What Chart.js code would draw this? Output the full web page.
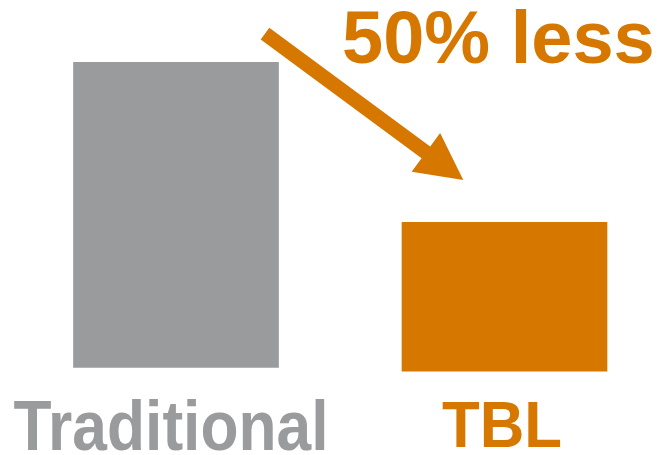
<!DOCTYPE html>
<html>
<head>
<meta charset="utf-8">
<script src="https://cdn.jsdelivr.net/npm/chart.js@4.4.1/dist/chart.umd.min.js"></script>
<style>
  html, body { margin: 0; padding: 0; background: #fff; }
  #wrap { width: 665px; height: 455px; }
</style>
</head>
<body>
<div id="wrap"><canvas id="c" width="665" height="455"></canvas></div>
<script>
const categories = ['Traditional', 'TBL'];
const barBase = [0, -1.3];
const barTop = [100, 47.5];
const callout = '50% less';

const GRAY = '#9a9b9d';
const ORANGE = '#d67800';
const barColors = [GRAY, ORANGE];

// category labels under the bars, drawn a bit condensed like the original
const labelPlugin = {
  id: 'labels',
  afterDatasetsDraw(chart, args, opts) {
    const ctx = chart.ctx;
    const x = chart.scales.x;
    ctx.save();
    chart.data.labels.forEach((lab, i) => {
      const st = opts.styles[i];
      ctx.save();
      ctx.translate(x.getPixelForValue(i) + st.dx, st.baseline);
      ctx.scale(st.sx, 1);
      ctx.font = 'bold ' + st.size + 'px "Liberation Sans", Arial, sans-serif';
      ctx.fillStyle = barColors[i];
      ctx.textAlign = 'center';
      ctx.textBaseline = 'alphabetic';
      ctx.fillText(lab, 0, 0);
      ctx.restore();
    });
    ctx.restore();
  }
};

// the "50% less" callout and arrow
const arrowPlugin = {
  id: 'arrow',
  afterDatasetsDraw(chart) {
    const ctx = chart.ctx;
    ctx.save();
    ctx.fillStyle = ORANGE;
    ctx.font = 'bold 74px "Liberation Sans", Arial, sans-serif';
    ctx.textBaseline = 'alphabetic';
    ctx.fillText(callout, 342, 63);

    const x0 = 265, y0 = 33.7, x1 = 463.3, y1 = 180;
    const ang = Math.atan2(y1 - y0, x1 - x0);
    const len = Math.hypot(x1 - x0, y1 - y0);
    const shaft = 14.5, headW = 48, headL = 46.5;
    ctx.translate(x0, y0);
    ctx.rotate(ang);
    ctx.beginPath();
    ctx.moveTo(0, -shaft / 2);
    ctx.lineTo(len - headL, -shaft / 2);
    ctx.lineTo(len - headL, -headW / 2);
    ctx.lineTo(len, 0);
    ctx.lineTo(len - headL, headW / 2);
    ctx.lineTo(len - headL, shaft / 2);
    ctx.lineTo(0, shaft / 2);
    ctx.closePath();
    ctx.fill();
    ctx.restore();
  }
};

new Chart(document.getElementById('c'), {
  type: 'bar',
  data: {
    labels: categories,
    datasets: [{
      data: categories.map((c, i) => [barBase[i], barTop[i]]),
      backgroundColor: barColors,
      borderWidth: 0,
      barThickness: 205,
      clip: false
    }]
  },
  options: {
    responsive: false,
    animation: false,
    layout: { padding: { left: 176, right: 160.5, top: 31.8, bottom: 57.2 } },
    scales: {
      x: { display: false, offset: false },
      y: { display: false, min: -10, max: 110 }
    },
    plugins: {
      legend: { display: false },
      tooltip: { enabled: false },
      labels: {
        styles: [
          { size: 70, sx: 0.89, dx: -5, baseline: 450 },
          { size: 65, sx: 0.95, dx: -2.5, baseline: 446.7 }
        ]
      }
    }
  },
  plugins: [labelPlugin, arrowPlugin]
});
</script>
</body>
</html>
